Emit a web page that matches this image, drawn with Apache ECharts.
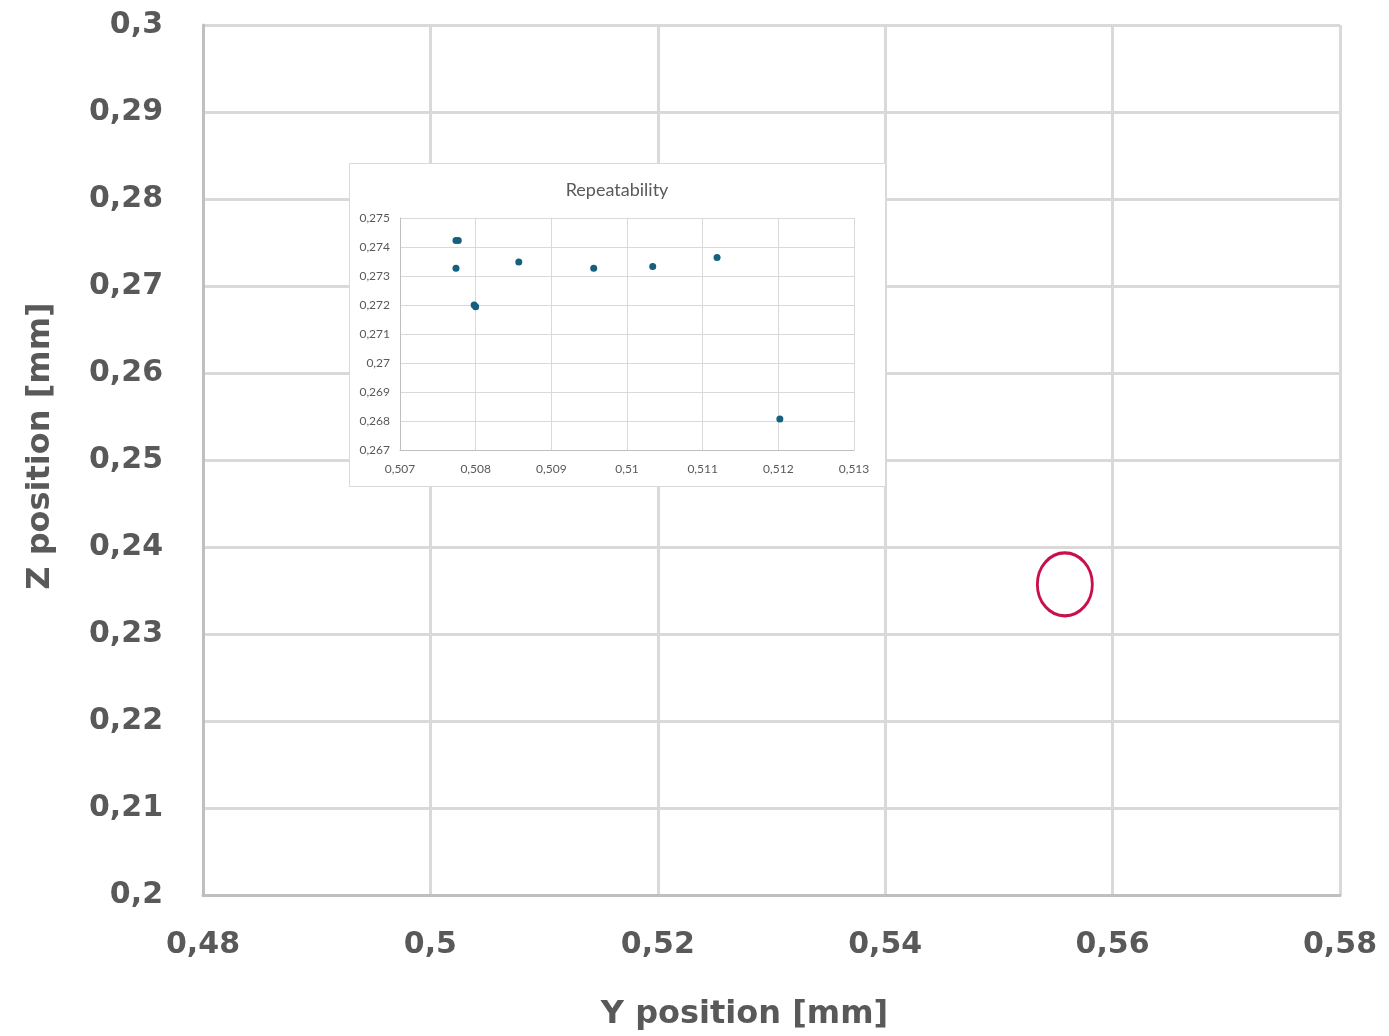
<!DOCTYPE html>
<html><head><meta charset="utf-8">
<script src="https://cdn.jsdelivr.net/npm/echarts@6/dist/echarts.min.js"></script>
<style>html,body{margin:0;padding:0;background:#fff}#c{width:1389px;height:1036px}</style>
</head><body><div id="c"></div>
<script>
// Main chart: highlighted cluster location (Y, Z) in mm
const highlightY = [0.5558];
const highlightZ = [0.2357];
// Inset "Repeatability" measurements (Y, Z) in mm
const repY = [0.50774, 0.50777, 0.50774, 0.50857, 0.50956, 0.51034, 0.51119, 0.50798, 0.50800, 0.51202];
const repZ = [0.27422, 0.27422, 0.27327, 0.27348, 0.27327, 0.27333, 0.27364, 0.27200, 0.27194, 0.26807];
const mainTitleX = 'Y position [mm]';
const mainTitleY = 'Z position [mm]';
const insetTitle = 'Repeatability';

const fmt = d => v => (+v.toFixed(d)).toString().replace('.', ',');
const chart = echarts.init(document.getElementById('c'));
const mainLabel = {color:'#595959', fontSize:30, fontWeight:'bold', fontFamily:'DejaVu Sans'};
const insetLabel = {color:'#595959', fontSize:12, fontFamily:'Lato'};
chart.setOption({
  animation:false,
  backgroundColor:'#fff',
  title:{text:insetTitle, left:612, top:176, textAlign:'center', z:20,
    textStyle:{color:'#595959', fontSize:18, fontWeight:'normal', fontFamily:'Lato'}},
  graphic:[{type:'rect', z:5, shape:{x:349.5, y:163.5, width:536, height:323},
    style:{fill:'#fff', stroke:'#d9d9d9', lineWidth:1}}],
  grid:[
    {left:203, right:49, top:25, bottom:139},
    {left:400, right:535, top:218, bottom:586}
  ],
  xAxis:[
    {gridIndex:0, type:'value', min:0.48, max:0.58, interval:0.02,
     name:mainTitleX, nameLocation:'middle', nameGap:104,
     nameTextStyle:{color:'#595959', fontSize:32, fontWeight:'bold', fontFamily:'DejaVu Sans', padding:[0,54,0,0]},
     axisLine:{show:true, lineStyle:{color:'#bfbfbf', width:3}}, axisTick:{show:false},
     axisLabel:Object.assign({margin:35, formatter:fmt(2)}, mainLabel),
     splitLine:{show:true, lineStyle:{color:'#d9d9d9', width:3}}},
    {gridIndex:1, type:'value', min:0.507, max:0.513, interval:0.001, z:10,
     axisLine:{show:true, lineStyle:{color:'#bfbfbf', width:1}}, axisTick:{show:false},
     axisLabel:Object.assign({margin:13, formatter:fmt(3)}, insetLabel),
     splitLine:{show:true, lineStyle:{color:'#d9d9d9', width:1}}}
  ],
  yAxis:[
    {gridIndex:0, type:'value', min:0.2, max:0.3, interval:0.01,
     name:mainTitleY, nameLocation:'middle', nameGap:146,
     nameTextStyle:{color:'#595959', fontSize:32, fontWeight:'bold', fontFamily:'DejaVu Sans', padding:[0,0,0,28]},
     axisLine:{show:true, lineStyle:{color:'#bfbfbf', width:3}}, axisTick:{show:false},
     axisLabel:Object.assign({margin:40, formatter:fmt(2)}, mainLabel),
     splitLine:{show:true, lineStyle:{color:'#d9d9d9', width:3}}},
    {gridIndex:1, type:'value', min:0.267, max:0.275, interval:0.001, z:10,
     axisLine:{show:true, lineStyle:{color:'#bfbfbf', width:1}}, axisTick:{show:false},
     axisLabel:Object.assign({margin:10, formatter:fmt(3)}, insetLabel),
     splitLine:{show:true, lineStyle:{color:'#d9d9d9', width:1}}}
  ],
  series:[
    {type:'scatter', xAxisIndex:0, yAxisIndex:0, z:3,
     data:highlightY.map((y,i)=>[y, highlightZ[i]]),
     symbol:'circle', symbolSize:[55,63],
     itemStyle:{color:'transparent', borderColor:'#C8104A', borderWidth:3, opacity:1}},
    {type:'scatter', xAxisIndex:1, yAxisIndex:1, z:12,
     data:repY.map((y,i)=>[y, repZ[i]]),
     symbol:'circle', symbolSize:7,
     itemStyle:{color:'#15607f', opacity:1}}
  ]
});
</script></body></html>
